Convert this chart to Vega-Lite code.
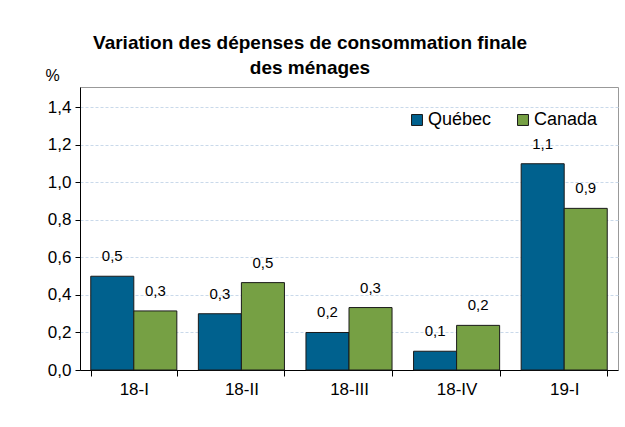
{
  "$schema": "https://vega.github.io/schema/vega-lite/v6.json",
  "width": 538,
  "height": 283,
  "autosize": "none",
  "padding": {"left": 80, "top": 87, "right": 7, "bottom": 57},
  "background": "#ffffff",
  "title": {
    "text": ["Variation des dépenses de consommation finale", "des ménages"],
    "font": "Liberation Sans",
    "fontSize": 19,
    "fontWeight": "bold",
    "color": "#000000",
    "lineHeight": 25,
    "anchor": "middle",
    "dx": -39,
    "offset": -11
  },
  "data": {
    "values": [
      {"trimestre": "18-I", "region": "Québec", "valeur": 0.5, "label": "0,5"},
      {"trimestre": "18-I", "region": "Canada", "valeur": 0.315, "label": "0,3"},
      {"trimestre": "18-II", "region": "Québec", "valeur": 0.3, "label": "0,3"},
      {"trimestre": "18-II", "region": "Canada", "valeur": 0.466, "label": "0,5"},
      {"trimestre": "18-III", "region": "Québec", "valeur": 0.2, "label": "0,2"},
      {"trimestre": "18-III", "region": "Canada", "valeur": 0.333, "label": "0,3"},
      {"trimestre": "18-IV", "region": "Québec", "valeur": 0.1, "label": "0,1"},
      {"trimestre": "18-IV", "region": "Canada", "valeur": 0.238, "label": "0,2"},
      {"trimestre": "19-I", "region": "Québec", "valeur": 1.1, "label": "1,1"},
      {"trimestre": "19-I", "region": "Canada", "valeur": 0.862, "label": "0,9"}
    ]
  },
  "encoding": {
    "x": {
      "field": "trimestre",
      "type": "nominal",
      "sort": null,
      "scale": {"paddingInner": 0.2, "paddingOuter": 0.1},
      "axis": {
        "title": null,
        "labelAngle": 0,
        "labelFont": "Liberation Sans",
        "labelFontSize": 17,
        "labelColor": "#000000",
        "labelPadding": 5,
        "domainColor": "#000000",
        "tickColor": "#000000",
        "tickBand": "extent",
        "tickSize": 6,
        "grid": false
      }
    },
    "xOffset": {"field": "region", "type": "nominal", "sort": ["Québec", "Canada"], "scale": {"paddingInner": 0, "paddingOuter": 0}},
    "y": {
      "field": "valeur",
      "type": "quantitative",
      "scale": {"domain": [0, 1.5093], "nice": false},
      "axis": {
        "title": "%",
        "titleAngle": 0,
        "titleX": -28,
        "titleY": -12,
        "titleAlign": "center",
        "titleBaseline": "middle",
        "titleFont": "Liberation Sans",
        "titleFontSize": 16,
        "titleFontWeight": "normal",
        "titleColor": "#000000",
        "values": [0, 0.2, 0.4, 0.6, 0.8, 1.0, 1.2, 1.4],
        "labelExpr": "replace(format(datum.value, '.1f'), '.', ',')",
        "labelFont": "Liberation Sans",
        "labelFontSize": 17,
        "labelColor": "#000000",
        "labelPadding": 4,
        "domainColor": "#000000",
        "tickColor": "#000000",
        "tickSize": 5,
        "grid": true,
        "gridColor": "#c9d9ea",
        "gridDash": [3, 2],
        "gridWidth": 1
      }
    }
  },
  "layer": [
    {
      "mark": {"type": "bar", "stroke": "#1a1a1a", "strokeWidth": 1},
      "encoding": {
        "color": {
          "field": "region",
          "type": "nominal",
          "sort": ["Québec", "Canada"],
          "scale": {"domain": ["Québec", "Canada"], "range": ["#00618e", "#76a044"]},
          "legend": {
            "title": null,
            "orient": "none",
            "direction": "horizontal",
            "legendX": 328,
            "legendY": 24,
            "symbolType": "square",
            "symbolSize": 120,
            "symbolStrokeColor": "#1a1a1a",
            "symbolStrokeWidth": 1,
            "labelFont": "Liberation Sans",
            "labelFontSize": 18,
            "labelColor": "#000000",
            "labelOffset": 2,
            "columnPadding": 22
          }
        }
      }
    },
    {
      "mark": {"type": "text", "baseline": "bottom", "dy": -12, "font": "Liberation Sans", "fontSize": 15, "color": "#000000"},
      "encoding": {"text": {"field": "label"}}
    }
  ],
  "config": {
    "view": {"stroke": "#999999", "strokeWidth": 1}
  }
}
